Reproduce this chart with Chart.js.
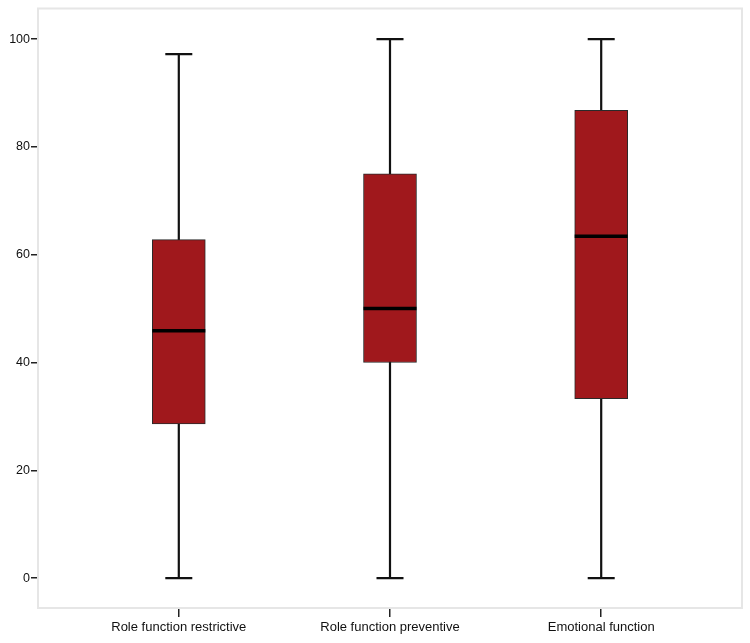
<!DOCTYPE html>
<html>
<head>
<meta charset="utf-8">
<script src="https://cdn.jsdelivr.net/npm/chart.js@4"></script>
<style>
    body { margin: 0; background: #fff; }
</style>
</head>
<body>
<canvas id="boxChart" width="750" height="643"></canvas>
<script>
const categories = ["Role function restrictive", "Role function preventive", "Emotional function"];
const whiskerLow = [0, 0, 0];
const q1 = [28.6, 40, 33.3];
const medians = [45.9, 50, 63.4];
const q3 = [62.8, 75, 86.8];
const whiskerHigh = [97.2, 100, 100];
const yTicks = [0, 20, 40, 60, 80, 100];

// whiskers under the boxes, medians on top, light frame round the plot
const boxExtras = {
    id: "boxExtras",
    beforeDatasetsDraw(chart) {
        const ctx = chart.ctx;
        const x = chart.scales.x, y = chart.scales.y;
        ctx.save();
        ctx.strokeStyle = "#111";
        ctx.lineWidth = 2.2;
        categories.forEach((c, i) => {
            const px = x.getPixelForValue(i + 1);
            ctx.beginPath();
            ctx.moveTo(px, y.getPixelForValue(whiskerLow[i]));
            ctx.lineTo(px, y.getPixelForValue(whiskerHigh[i]));
            [whiskerLow[i], whiskerHigh[i]].forEach(v => {
                const py = y.getPixelForValue(v);
                ctx.moveTo(px - 13.5, py);
                ctx.lineTo(px + 13.5, py);
            });
            ctx.stroke();
        });
        ctx.restore();
    },
    afterDatasetsDraw(chart) {
        const ctx = chart.ctx;
        const x = chart.scales.x, y = chart.scales.y;
        const area = chart.chartArea;
        ctx.save();
        ctx.strokeStyle = "#000";
        ctx.lineWidth = 3.5;
        categories.forEach((c, i) => {
            const px = x.getPixelForValue(i + 1);
            const py = y.getPixelForValue(medians[i]);
            ctx.beginPath();
            ctx.moveTo(px - 26.5, py);
            ctx.lineTo(px + 26.5, py);
            ctx.stroke();
        });
        ctx.strokeStyle = "#e6e6e6";
        ctx.lineWidth = 2;
        ctx.strokeRect(area.left, area.top, area.right - area.left, area.bottom - area.top);
        ctx.restore();
    }
};

const ctx = document.getElementById("boxChart").getContext("2d");

new Chart(ctx, {
    type: "bar",
    data: {
        datasets: [{
            data: categories.map((c, i) => ({ x: i + 1, y: [q1[i], q3[i]] })),
            backgroundColor: "#a0181c",
            borderColor: "#2a2a2a",
            borderWidth: 1,
            borderSkipped: false,
            barThickness: 53
        }]
    },
    options: {
        responsive: false,
        animation: false,
        layout: { padding: { top: 6, right: 8, left: 0, bottom: 0 } },
        plugins: {
            legend: { display: false },
            tooltip: { enabled: false }
        },
        scales: {
            x: {
                type: "linear",
                min: 1 / 3,
                max: 11 / 3,
                offset: false,
                afterBuildTicks: scale => {
                    scale.ticks = categories.map((c, i) => ({ value: i + 1 }));
                },
                afterFit: scale => { scale.height = 35; },
                grid: { offset: false, drawOnChartArea: false, drawTicks: true, tickLength: 9, color: "#222", lineWidth: 1.5 },
                border: { display: false },
                ticks: {
                    padding: 3,
                    maxRotation: 0,
                    color: "#111",
                    font: { family: "Liberation Sans, Arial, sans-serif", size: 13 },
                    callback: v => categories[v - 1]
                }
            },
            y: {
                min: -5.54,
                max: 105.67,
                afterBuildTicks: scale => {
                    scale.ticks = yTicks.map(v => ({ value: v }));
                },
                afterFit: scale => { scale.width = 38; },
                grid: { drawOnChartArea: false, drawTicks: true, tickLength: 7, color: "#222", lineWidth: 1.5 },
                border: { display: false },
                ticks: {
                    padding: 1,
                    color: "#111",
                    font: { family: "Liberation Sans, Arial, sans-serif", size: 12.5 }
                }
            }
        }
    },
    plugins: [boxExtras]
});
</script>
</body>
</html>
